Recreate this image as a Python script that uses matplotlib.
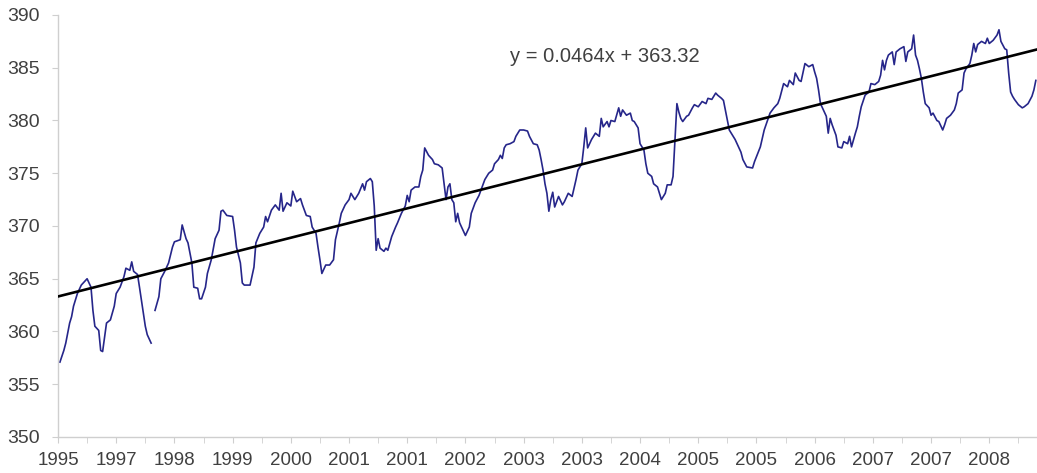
import numpy as np
import matplotlib
matplotlib.use("Agg")
import matplotlib.pyplot as plt

# ---- data (sample index along the series, CO2 value) ----
idx = [1, 3, 4, 6, 7, 8, 10, 12, 15, 17, 18, 19, 21, 22, 23, 25, 27, 29, 30, 32,
       34, 35, 37, 38, 39, 41, 42, 44, 45, 46, 48, 49, 50, 52, 53, 55, 57, 59, 60, 63,
       64, 66, 67, 69, 70, 72, 73, 74, 76, 77, 79, 81, 83, 84,
       85, 87, 90, 91, 92, 94, 95, 96, 99, 101, 102, 104, 106, 107, 108, 110, 112, 114,
       115, 116, 118, 120, 121, 123, 125, 126, 128, 130, 131, 133, 134, 135, 136, 138,
       140, 142, 143, 145, 146, 148, 150, 151, 153, 155, 157, 158, 159, 161, 162, 163,
       164, 165, 166, 168, 169, 170, 172, 174, 175, 177, 179, 180, 181, 182, 184, 186,
       187, 188, 189, 191, 193, 194, 196, 198, 199, 200, 201, 202, 203, 204, 205, 206,
       207, 209, 210, 212, 213, 215, 217, 218, 220, 222, 224, 225, 227, 228, 229, 230,
       231, 233, 235, 236, 238, 240, 242, 243, 245, 247, 248, 249, 250, 251, 252, 253,
       254, 255, 256, 258, 260, 261, 263, 265, 267, 268, 270, 271, 272, 273, 275, 277,
       279, 280, 281, 283, 284, 285, 287, 289, 290, 291, 293, 295, 296, 297, 299, 300,
       302, 303, 304, 306, 307, 309, 310, 311, 313, 314, 316, 317, 318, 319, 320, 321,
       322, 324, 325, 327, 328, 330, 332, 334, 335, 337, 339, 340, 342, 343, 345, 346,
       349, 352, 353, 355, 358, 359, 362, 364, 367, 369, 371, 372, 374, 376, 377, 379,
       380, 382, 383, 385, 387, 389, 390, 391, 392, 393, 395, 396, 397, 398, 399, 401,
       402, 404, 405, 407, 408, 409, 411, 412, 413, 414, 416, 418, 419, 421, 423, 424,
       425, 426, 427, 428, 430, 431, 432, 434, 436, 437, 438, 440, 441, 442, 443, 444,
       445, 446, 447, 449, 450, 451, 453, 454, 456, 457, 458, 460, 462, 463, 464, 466,
       467, 468, 470, 471, 472, 473, 474, 476, 478, 479, 480, 482, 484, 485, 486, 488,
       489, 490, 491, 492, 493, 495, 497, 498, 500, 502, 503, 504]

co2 = [357.1, 358.2, 358.9, 360.8, 361.4, 362.4, 363.6, 364.4, 365.0, 364.2, 362.0, 360.5,
       360.1, 358.2, 358.1, 360.8, 361.1, 362.4, 363.6, 364.2, 365.2, 366.0, 365.8, 366.6,
       365.7, 365.4, 364.2, 361.7, 360.5, 359.7, 358.9, np.nan, 362.0, 363.3, 365.0, 365.7,
       366.5, 368.0, 368.5, 368.7, 370.1, 368.8, 368.4, 366.5, 364.2, 364.1, 363.1, 363.1,
       364.2, 365.5, 366.8, 368.8, 369.6, 371.4,
       371.5, 371.0, 370.9, 369.6, 368.0, 366.5, 364.6, 364.4, 364.4, 366.1, 368.4, 369.3,
       369.9, 370.9, 370.4, 371.5, 372.0, 371.5, 373.1, 371.4, 372.2, 371.9, 373.3, 372.3,
       372.6, 372.0, 371.0, 370.9, 369.9, 369.3, 368.0, 366.8, 365.5, 366.3, 366.3, 366.8,
       368.7, 370.3, 371.2, 372.0, 372.5, 373.1, 372.5, 373.1, 374.0, 373.4, 374.2, 374.5,
       374.2, 371.9, 367.7, 368.8, 367.9, 367.6, 367.9, 367.7, 369.0, 369.9, 370.3, 371.2,
       371.9, 372.9, 372.3, 373.4, 373.7, 373.7, 374.7, 375.3, 377.4, 376.7, 376.3, 375.9,
       375.8, 375.5, 374.0, 372.5, 373.7, 374.0, 372.5, 372.2, 370.4, 371.2, 370.3, 369.5,
       369.1, 369.9, 371.2, 372.2, 372.9, 373.4, 374.4, 375.0, 375.3, 375.9, 376.3, 376.7,
       376.4, 377.4, 377.7, 377.8, 378.0, 378.5, 379.1, 379.1, 379.0, 378.5, 377.8, 377.7,
       377.2, 376.3, 375.3, 374.0, 373.1, 371.4, 372.5, 373.2, 371.8, 372.8, 372.0, 372.3,
       373.1, 372.8, 374.4, 375.3, 375.9, 377.5, 379.3, 377.4, 378.2, 378.8, 378.5, 380.2,
       379.4, 379.9, 379.4, 380.0, 379.9, 381.2, 380.4, 381.0, 380.5, 380.7, 380.0, 379.9,
       379.3, 377.8, 377.2, 375.9, 375.0, 374.7, 374.0, 373.7, 373.1, 372.5, 373.1, 373.9,
       373.9, 374.7, 378.2, 381.6, 380.8, 380.2, 379.9, 380.4, 380.5, 381.2, 381.5, 381.3,
       381.8, 381.6, 382.1, 382.0, 382.6, 382.4, 382.1, 381.9, 380.0, 379.1, 378.2, 377.0,
       376.3, 375.6, 375.5, 376.1, 377.5, 379.1, 380.7, 381.2, 381.6, 382.1, 383.5, 383.2,
       383.8, 383.4, 384.5, 383.8, 383.7, 385.4, 385.1, 385.3, 384.6, 384.0, 382.9, 381.6,
       380.8, 380.4, 378.8, 380.2, 379.6, 378.6, 377.5, 377.4, 378.0, 377.8, 378.5, 377.5,
       378.8, 379.4, 380.4, 381.3, 382.4, 382.7, 383.5, 383.4, 383.7, 384.3, 385.7, 384.8,
       385.7, 386.2, 386.5, 385.3, 386.5, 386.8, 387.0, 385.6, 386.5, 386.8, 388.1, 386.2,
       385.7, 384.9, 384.0, 382.7, 381.6, 381.2, 380.5, 380.7, 380.0, 379.9, 379.1, 379.6,
       380.2, 380.5, 381.0, 381.6, 382.6, 382.9, 384.5, 384.9, 385.4, 386.2, 387.3, 386.5,
       387.2, 387.5, 387.3, 387.8, 387.3, 387.6, 388.1, 388.6, 387.5, 386.8, 386.7, 384.5,
       382.7, 382.3, 382.0, 381.5, 381.2, 381.3, 381.6, 382.3, 382.9, 383.8]

year_labels = ["1995", "1997", "1998", "1999", "2000", "2001", "2001", "2002", "2003",
               "2003", "2004", "2005", "2005", "2006", "2007", "2007", "2008"]
label_step = 30          # samples between labelled ticks
tick_step = 15           # samples between tick marks
trend_slope = 0.0464
trend_intercept = 363.32
y_ticks = [350, 355, 360, 365, 370, 375, 380, 385, 390]

# ---- figure ----
W, H = 1037, 473
fig = plt.figure(figsize=(W / 100, H / 100), dpi=100)
ax = fig.add_axes([58 / W, 36 / H, 979 / W, 422 / H])

text_color = "#404040"
axis_color = "#cfcfcf"
font = ["Liberation Sans", "DejaVu Sans"]

x_max = 504.6
ax.plot(idx, co2, color="#26268a", lw=1.2, solid_joinstyle="round", zorder=2)

tx = np.array([0.0, x_max])
ax.plot(tx, trend_slope * tx + trend_intercept, color="black", lw=1.9, zorder=3)

ax.set_xlim(0, x_max)
ax.set_ylim(350, 390)

ax.set_yticks(y_ticks)
ax.set_yticklabels([str(v) for v in y_ticks], fontsize=14, color=text_color, family=font)

major = [i * label_step for i in range(len(year_labels))]
ax.set_xticks(major)
ax.set_xticklabels(year_labels, fontsize=13.5, color=text_color, family=font)
ax.set_xticks(list(range(0, int(x_max), tick_step)), minor=True)

for s in ["top", "right"]:
    ax.spines[s].set_visible(False)
for s in ["left", "bottom"]:
    ax.spines[s].set_color(axis_color)
    ax.spines[s].set_linewidth(1.0)

ax.tick_params(axis="y", which="both", direction="out", length=4, color=axis_color, pad=9)
ax.tick_params(axis="x", which="major", direction="out", length=4, color=axis_color, pad=7)
ax.tick_params(axis="x", which="minor", direction="out", length=4, color=axis_color)

ax.annotate(f"y = {trend_slope}x + {trend_intercept}", xy=(233, 386.1), xycoords="data",
            fontsize=14.5, color=text_color, family=font, ha="left", va="center")

fig.savefig("out.png", dpi=100, facecolor="white")
